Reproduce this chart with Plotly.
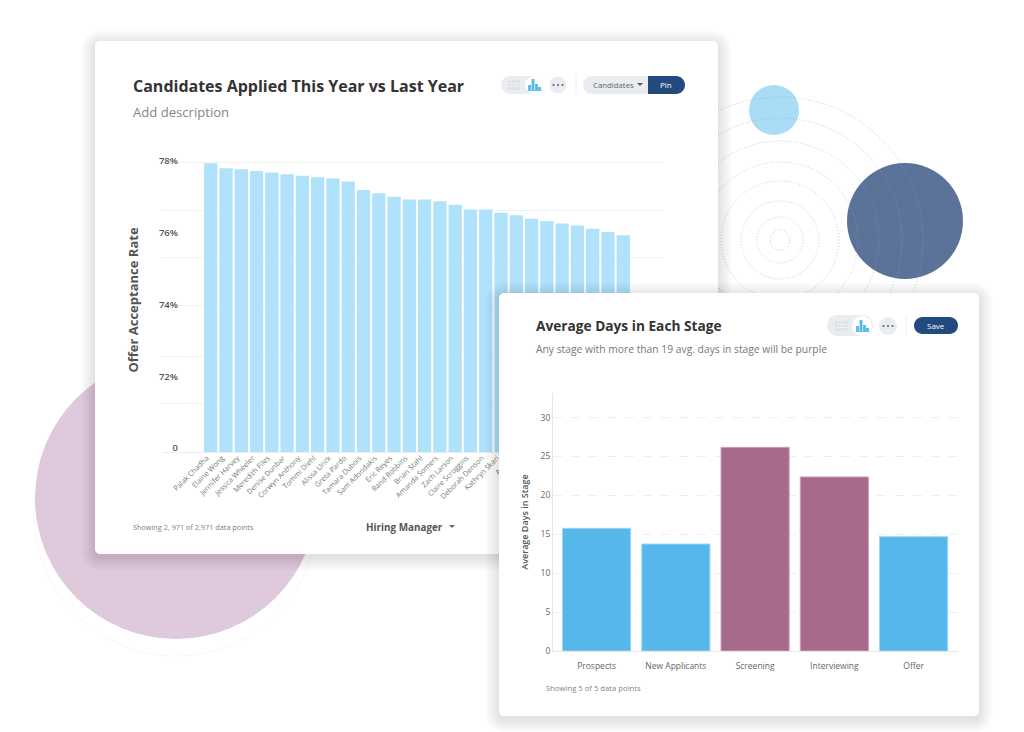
import plotly.graph_objects as go

W, H = 1024, 732

# ---- data ----
manager_names = ["Palak Chadha", "Elaine Wong", "Jennifer Harvey", "Jessica Wheeler", "Meredith Files",
                 "Denise Dunbar", "Corwyn Anthony", "Tommi Diehl", "Alissa Urick", "Greta Pardo",
                 "Tamara Dubois", "Sam Adondakis", "Eric Reyes", "Rand Robbins", "Brian Stahl",
                 "Amanda Somers", "Zach Larson", "Claire Scroggins", "Deborah Denson", "Kathryn Skari",
                 "Amy M", "", "", "", "", "", "", ""]
acceptance = [77.94, 77.80, 77.77, 77.72, 77.68, 77.63, 77.59, 77.55, 77.51, 77.43,
              77.19, 77.10, 77.00, 76.93, 76.93, 76.88, 76.78, 76.65, 76.65, 76.56,
              76.49, 76.39, 76.33, 76.26, 76.20, 76.11, 76.02, 75.93]
accept_tickvals = [70, 72, 74, 76, 78]
accept_ticktext = ["0", "72%", "74%", "76%", "78%"]
accept_grid = [71.23, 72.56, 73.96, 75.30, 76.63, 77.97]

stages = ["Prospects", "New Applicants", "Screening", "Interviewing", "Offer"]
avg_days = [15.77, 13.75, 26.18, 22.37, 14.69]
threshold = 19
PURPLE, BLUE = "#a76a8b", "#55b7ea"
stage_colors = [PURPLE if v > threshold else BLUE for v in avg_days]
stage_lines = ["#c9a3b8" if v > threshold else "#9bd8f5" for v in avg_days]

FONT = "Open Sans"
NAVY = "#234a7e"
PILL = "#e9ecf1"
SHADOW = "rgba(0,0,0,0.008)"


def fx(p):
    return p / W


def fy(p):
    return 1 - p / H


shapes = []


def rr_path(x0, y0, x1, y1, r, conv=False):
    X = fx if conv else (lambda v: v)
    Y = fy if conv else (lambda v: v)
    k = 0.45 * r
    return (f"M {X(x0+r)} {Y(y0)} L {X(x1-r)} {Y(y0)} C {X(x1-k)} {Y(y0)} {X(x1)} {Y(y0+k)} {X(x1)} {Y(y0+r)} "
            f"L {X(x1)} {Y(y1-r)} C {X(x1)} {Y(y1-k)} {X(x1-k)} {Y(y1)} {X(x1-r)} {Y(y1)} "
            f"L {X(x0+r)} {Y(y1)} C {X(x0+k)} {Y(y1)} {X(x0)} {Y(y1-k)} {X(x0)} {Y(y1-r)} "
            f"L {X(x0)} {Y(y0+r)} C {X(x0)} {Y(y0+k)} {X(x0+k)} {Y(y0)} {X(x0+r)} {Y(y0)} Z")


def paper_circle(cx, cy, r, fill=None, line=None, dash=None, layer="below"):
    shapes.append(dict(type="circle", xref="paper", yref="paper", layer=layer,
                       x0=fx(cx - r), x1=fx(cx + r), y0=fy(cy + r), y1=fy(cy - r),
                       fillcolor=fill or "rgba(0,0,0,0)",
                       line=dict(color=line or "rgba(0,0,0,0)", width=1 if line else 0, dash=dash or "solid")))


def paper_path(x0, y0, x1, y1, r, fill, layer="below"):
    shapes.append(dict(type="path", xref="paper", yref="paper", layer=layer,
                       path=rr_path(x0, y0, x1, y1, r, conv=True), fillcolor=fill, line=dict(width=0)))


def paper_tri(cx, cy, w, h, fill, layer="below"):
    p = f"M {fx(cx-w/2)} {fy(cy-h/2)} L {fx(cx+w/2)} {fy(cy-h/2)} L {fx(cx)} {fy(cy+h/2)} Z"
    shapes.append(dict(type="path", xref="paper", yref="paper", layer=layer, path=p,
                       fillcolor=fill, line=dict(width=0)))


def toolbar(px0, px1, py0, py1, cx, cy, cr, tx0, tx1, bx, dot_x, dot_r, layer):
    paper_path(px0, py0, px1, py1, (py1 - py0) / 2, PILL, layer)
    paper_circle(cx, cy, cr, "#ffffff", None, None, layer)
    # table glyph
    paper_path(tx0, cy - 5, tx1, cy + 5, 0.5, "#dfe1e5", layer)
    for i in range(1, 4):
        xx = tx0 + (tx1 - tx0) * i / 4
        paper_path(xx - 0.3, cy - 5, xx + 0.3, cy + 5, 0, "#f1f2f4", layer)
    for i in range(1, 3):
        yy = cy - 5 + 10 * i / 3
        paper_path(tx0, yy - 0.3, tx1, yy + 0.3, 0, "#f1f2f4", layer)
    # bar glyph
    for dx, top in [(-4.5, 0), (-1, -6), (2.5, -1), (5.5, 2)]:
        paper_path(bx + dx - 1.4, cy + top, bx + dx + 1.4, cy + 5.5, 0, "#55b7ea", layer)
    paper_path(bx - 6.5, cy + 5.2, bx + 7.5, cy + 5.9, 0, "#55b7ea", layer)
    # dots button
    paper_circle(dot_x, cy, dot_r, PILL, None, None, layer)
    for dx in (-4.5, 0, 4.5):
        paper_circle(dot_x + dx, cy, 1, "#555b66", None, None, layer)


# ---- background decoration ----
paper_circle(176, 514, 142, None, "#e6e6e6", "1px,2px")
paper_circle(176, 498, 141, "#dfc9dd")
paper_circle(774, 110, 25, "#aadcf5")
paper_circle(905, 221, 58, "#5b7299")
for r in (10, 23, 39, 59, 78, 99, 122, 143):
    paper_circle(780, 240, r, None, "rgba(150,160,195,0.55)", "1px,2px")

# ---- card 1 ----
for i in range(14, 0, -1):
    paper_path(95 - i, 41 - i + 3, 718 + i, 554 + i + 3, 5 + i, SHADOW)
paper_path(95, 41, 718, 554, 5, "#ffffff")
toolbar(501, 543, 76, 94, 534, 85, 9, 508, 520, 534, 558, 8.5, "below")
shapes.append(dict(type="line", xref="paper", yref="paper", layer="below",
                   x0=fx(576), x1=fx(576), y0=fy(75), y1=fy(94), line=dict(color="#eeeff2", width=1)))
paper_path(583, 76, 660, 94, 9, PILL)
paper_path(648, 76, 685, 94, 9, NAVY)
paper_path(648, 76, 660, 94, 0, NAVY)
paper_tri(640, 84.5, 6, 3, "#555b66")
paper_tri(452, 526.5, 6, 3, "#666666")

# ---- card 2 (lives on an overlay axis so it hides chart 1) ----
for i in range(14, 0, -1):
    shapes.append(dict(type="path", xref="x2", yref="y2", layer="below",
                       path=rr_path(499 - i, 293 - i + 3, 979 + i, 716 + i + 3, 5 + i),
                       fillcolor=SHADOW, line=dict(width=0)))
shapes.append(dict(type="path", xref="x2", yref="y2", layer="below",
                   path=rr_path(499, 293, 979, 716, 5), fillcolor="#ffffff", line=dict(width=0)))
toolbar(827, 873, 315, 336, 862, 326, 10, 835, 848, 862, 888, 9, "above")
shapes.append(dict(type="line", xref="paper", yref="paper", layer="above",
                   x0=fx(906), x1=fx(906), y0=fy(315), y1=fy(335), line=dict(color="#eeeff2", width=1)))
paper_path(914, 317, 958, 334, 8.5, NAVY, "above")

# ---- traces ----
fig = go.Figure()
fig.add_trace(go.Bar(x=list(range(len(acceptance))), y=acceptance, xaxis="x", yaxis="y", width=0.87,
                     marker=dict(color="#b1e2fb", line=dict(width=0)), showlegend=False))
fig.add_trace(go.Scatter(x=[None], y=[None], xaxis="x2", yaxis="y2", showlegend=False))
fig.add_trace(go.Bar(x=stages, y=avg_days, xaxis="x3", yaxis="y3", width=0.86,
                     marker=dict(color=stage_colors, line=dict(color=stage_lines, width=1)), showlegend=False))
fig.add_trace(go.Scatter(x=[-0.55, 4.56], y=[threshold, threshold], xaxis="x3", yaxis="y3", mode="lines",
                         line=dict(color="rgba(233,90,120,0.75)", width=1.2), showlegend=False))


def text(x, y, s, size, color, weight=400, anchor="left"):
    return dict(x=fx(x - 2 if anchor == "left" else x), y=fy(y), xref="paper", yref="paper", text=s,
                showarrow=False, xanchor=anchor, yanchor="middle",
                font=dict(family=FONT, size=size, color=color, weight=weight))


annotations = [
    text(133, 86, "Candidates Applied This Year vs Last Year", 16, "#333333", 700),
    text(133, 112, "Add description", 13.1, "#858585"),
    text(593, 85, "Candidates", 7.8, "#5f6570", 500),
    text(665.5, 85, "Pin", 8, "#ffffff", 500, "center"),
    text(133, 527, "Showing 2, 971 of 2,971 data points", 7.3, "#808080"),
    text(366, 527, "Hiring Manager", 9.9, "#555555", 700),
    text(536, 325, "Average Days in Each Stage", 13.7, "#333333", 700),
    text(536, 349, "Any stage with more than 19 avg. days in stage will be purple", 10.3, "#777777"),
    text(936, 325.5, "Save", 8, "#ffffff", 500, "center"),
    text(546, 688, "Showing 5 of 5 data points", 7.7, "#858585"),
]

lo1 = 70 + (448 - 452) / 35.875
hi1 = 70 + (448 - 148) / 35.875
fig.update_layout(
    width=W, height=H, autosize=False,
    margin=dict(l=0, r=0, t=0, b=0, autoexpand=False),
    paper_bgcolor="#ffffff", plot_bgcolor="rgba(0,0,0,0)",
    showlegend=False,
    shapes=shapes, annotations=annotations,
    font=dict(family=FONT),
    xaxis=dict(domain=[fx(162), fx(663)], anchor="y", range=[(162 - 210.7) / 15.28, (663 - 210.7) / 15.28],
               automargin=False,
               tickmode="array", tickvals=list(range(len(manager_names))), ticktext=manager_names,
               tickangle=-45, tickfont=dict(family=FONT, size=7.3, color="#777777"),
               ticklabelstandoff=-2, ticklabelshift=-4,
               showgrid=False, zeroline=False, showline=True, linecolor="#eeeeee", linewidth=1, ticks=""),
    yaxis=dict(domain=[fy(452), fy(148)], anchor="x", range=[lo1, hi1], automargin=False,
               tickmode="array", tickvals=accept_tickvals, ticktext=accept_ticktext,
               tickfont=dict(family=FONT, size=9.5, color="#555555", weight=600),
               ticklabelstandoff=-17, showgrid=False, zeroline=False, showline=False, ticks="",
               minor=dict(tickmode="array", tickvals=accept_grid, showgrid=True, gridcolor="#f0f0f0", gridwidth=1, ticks=""),
               title=dict(text="Offer Acceptance Rate", font=dict(family=FONT, size=13, color="#555555", weight=700), standoff=17)),
    xaxis2=dict(domain=[0, 1], anchor="y2", range=[0, W], visible=False, automargin=False),
    yaxis2=dict(domain=[0, 1], anchor="x2", range=[H, 0], visible=False, automargin=False),
    xaxis3=dict(domain=[fx(553), fx(958)], anchor="y3", range=[-0.55, 4.56], type="category",
                categoryorder="array", categoryarray=stages, automargin=False, ticklabelstandoff=7,
                tickfont=dict(family=FONT, size=8.5, color="#666666"), showgrid=False, zeroline=False,
                showline=True, linecolor="#e6e6e8", linewidth=1, ticks="", tickangle=0),
    yaxis3=dict(domain=[fy(651), fy(393)], anchor="x3", range=[0, (651 - 393) / 7.78], automargin=False,
                tickvals=[0, 5, 10, 15, 20, 25, 30], tickfont=dict(family=FONT, size=8.5, color="#666666"),
                showgrid=True, gridcolor="#eeeeee", griddash="dash", gridwidth=1, zeroline=False,
                showline=True, linecolor="#e6e6e8", linewidth=1, ticks="",
                title=dict(text="Average Days in Stage", font=dict(family=FONT, size=9, color="#555555", weight=600), standoff=10)),
)

fig.write_html("out.html", config=dict(displayModeBar=False),
               post_script="document.body.style.margin='0';document.body.style.overflow='hidden';")
